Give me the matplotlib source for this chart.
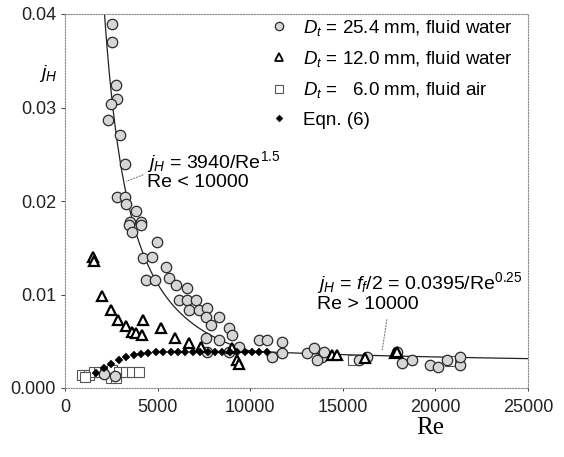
import numpy as np
import matplotlib
matplotlib.use("Agg")
import matplotlib.pyplot as plt
from matplotlib.lines import Line2D

plt.rcParams['font.family'] = ['Liberation Sans', 'DejaVu Sans']
plt.rcParams['mathtext.fontset'] = 'custom'
plt.rcParams['mathtext.rm'] = 'Liberation Sans'
plt.rcParams['mathtext.it'] = 'Liberation Sans:italic'

# ---- data ----
re_254 = [2540, 2540, 2760, 2810, 2490, 2330, 2980, 3250, 2810, 3250, 3300, 3840, 3520, 4110,
          3460, 4110, 3620, 4980, 4220, 4710, 5460, 4380, 4870, 5630, 6000, 6600, 6170, 6600,
          7090, 6710, 7250, 7680, 7630, 8330, 7900, 8870, 7630, 8330, 9030, 10500, 10930,
          11740, 9410, 8870, 7680, 11200, 11740, 13090, 13470, 13900, 14010, 13580, 15900,
          16280, 17910, 18180, 18720, 19690, 20130, 20610, 21320, 21320, 2100, 2700]
j_254 = [0.0389, 0.0370, 0.0324, 0.0309, 0.0304, 0.0287, 0.0271, 0.0240, 0.0204, 0.0204,
         0.0197, 0.0189, 0.0178, 0.0178, 0.0174, 0.0174, 0.0167, 0.0156, 0.0139, 0.0140,
         0.0129, 0.0116, 0.0116, 0.0118, 0.0110, 0.0107, 0.0094, 0.0094, 0.0094, 0.0083,
         0.0083, 0.0086, 0.0076, 0.0076, 0.0067, 0.0064, 0.0053, 0.0051, 0.0057, 0.0051,
         0.0051, 0.0049, 0.0044, 0.0039, 0.0039, 0.0033, 0.0037, 0.0037, 0.0043, 0.0033,
         0.0039, 0.0030, 0.0030, 0.0033, 0.0039, 0.0027, 0.0030, 0.0025, 0.0022, 0.0030,
         0.0025, 0.0033, 0.0015, 0.0013]

re_120 = [1520, 1570, 2000, 2490, 2870, 3300, 3620, 3840, 4170, 4220, 5190, 5950, 6710,
          7360, 9030, 9300, 9400, 14440, 14660, 16180, 17800, 17910]
j_120 = [0.0140, 0.0136, 0.0098, 0.0083, 0.0073, 0.0066, 0.0060, 0.0059, 0.0057, 0.0073,
         0.0064, 0.0053, 0.0048, 0.0044, 0.0043, 0.0030, 0.0026, 0.0035, 0.0035, 0.0032,
         0.0037, 0.0039]

re_60 = [920, 1300, 1570, 1840, 2160, 2540, 2920, 3300, 3620, 4000, 2490, 2760, 1080,
         15530, 20800]
j_60 = [0.0014, 0.0014, 0.0017, 0.0017, 0.0017, 0.0019, 0.0017, 0.0017, 0.0017, 0.0017,
        0.0011, 0.0011, 0.0012, 0.0030, 0.0029]

re_eq6 = [1700, 2100, 2500, 2900, 3300, 3700, 4100, 4500, 4900, 5300, 5700, 6100,
          6500, 6900, 7300, 7700, 8100, 8500, 8900, 9300, 9700, 10100, 10500, 10900]
j_eq6 = [0.0016, 0.0021, 0.0026, 0.0030, 0.0033, 0.0035, 0.0036, 0.0037, 0.0038,
         0.0038, 0.0039, 0.0039, 0.0039, 0.0039, 0.0039, 0.0039, 0.0039, 0.0039, 0.0039,
         0.0039, 0.0038, 0.0038, 0.0038, 0.0038]

# correlation constants shown on the chart
lam_coef, lam_exp, lam_max = 3940.0, 1.5, 10000
turb_coef, turb_exp = 0.0395, 0.25

xticks = [0, 5000, 10000, 15000, 20000, 25000]
xticklabels = ['0', '5000', '10000', '15000', '20000', '25000']
yticks = [0.0, 0.01, 0.02, 0.03, 0.04]
yticklabels = ['0.000', '0.01', '0.02', '0.03', '0.04']

legend_labels = [r'$D_t$ = 25.4 mm, fluid water',
                 r'$D_t$ = 12.0 mm, fluid water',
                 r'$D_t$ =   6.0 mm, fluid air',
                 'Eqn. (6)']

# ---- figure ----
fig = plt.figure(figsize=(5.64, 4.57), dpi=100)
ax = fig.add_axes([65/564, 1-388/457, (528-65)/564, (388-14)/457])

re_lam = np.linspace(1500, lam_max, 400)
re_turb = np.linspace(lam_max, 25000, 200)
ax.plot(re_lam, lam_coef / re_lam**lam_exp, color='#222222', lw=0.9, zorder=2)
ax.plot(re_turb, turb_coef / re_turb**turb_exp, color='#222222', lw=0.9, zorder=2)

circ = dict(marker='o', ls='none', ms=7.5, mfc='#d6d6d6', mec='#2a2a2a', mew=0.9)
tri = dict(marker='^', ls='none', ms=7.5, mfc='white', mec='black', mew=1.6)
sq = dict(marker='s', ls='none', ms=7, mfc='white', mec='#555555', mew=0.8)
eq = dict(marker='D', ls='none', ms=3.6, mfc='black', mec='black', mew=0.3)

ax.plot(re_60, j_60, zorder=3, **sq)
ax.plot(re_254, j_254, zorder=4, **circ)
ax.plot(re_120, j_120, zorder=5, **tri)
ax.plot(re_eq6, j_eq6, zorder=6, **eq)

ax.set_xlim(0, 25000)
ax.set_ylim(0, 0.04)
ax.set_xticks(xticks)
ax.set_xticklabels(xticklabels)
ax.set_yticks(yticks)
ax.set_yticklabels(yticklabels)
ax.tick_params(axis='both', labelsize=13, colors='#222222', length=3, width=0.6)
ax.tick_params(axis='x', length=2, pad=6)
for s in ax.spines.values():
    s.set_linestyle((0, (1, 1.5)))
    s.set_color('#888888')
    s.set_linewidth(0.8)

# legend
handles = [Line2D([], [], **dict(circ, ms=6)), Line2D([], [], **dict(tri, ms=5.5, mew=1.3)),
           Line2D([], [], **dict(sq, ms=5.5)), Line2D([], [], **dict(eq, ms=3.5))]
ax.legend(handles, legend_labels, loc='upper left', bbox_to_anchor=(0.425, 1.01),
          frameon=False, fontsize=13.5, handlelength=1.0, handletextpad=0.8,
          labelspacing=0.6, borderaxespad=0)

# annotations
ax.text(4430, 0.0233, r'$j_H$ = 3940/Re$^{1.5}$' + '\nRe < 10000', fontsize=14,
        va='center', ha='left', linespacing=0.95)
ax.annotate('', xy=(3180, 0.0220), xytext=(4350, 0.0229),
            arrowprops=dict(arrowstyle='-', ls=':', color='#777777', lw=0.8))

ax.text(13600, 0.0103, r'$j_H$ = $f_f$/2 = 0.0395/Re$^{0.25}$' + '\nRe > 10000',
        fontsize=14, va='center', ha='left', linespacing=1.0)
ax.annotate('', xy=(17100, 0.0037), xytext=(17400, 0.0076),
            arrowprops=dict(arrowstyle='-', ls=':', color='#777777', lw=0.8))

fig.text(48/564, 1-73/457, r'$j_H$', fontsize=14, ha='center', va='center')
fig.text(430/564, 1-428/457, 'Re', fontsize=18, ha='center', va='center',
         family='Liberation Serif')

fig.savefig('out.png', dpi=100)
